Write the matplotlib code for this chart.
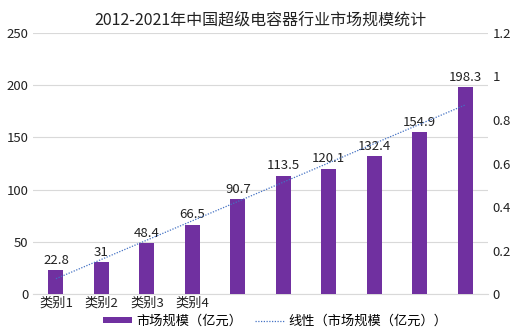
import numpy as np
import matplotlib.pyplot as plt
from matplotlib.ticker import FuncFormatter

plt.rcParams['font.family'] = ['Noto Sans CJK SC', 'DejaVu Sans']

# Data
categories = ['类别1', '类别2', '类别3', '类别4', '', '', '', '', '', '']
values = [22.8, 31, 48.4, 66.5, 90.7, 113.5, 120.1, 132.4, 154.9, 198.3]
value_labels = ['22.8', '31', '48.4', '66.5', '90.7', '113.5', '120.1', '132.4', '154.9', '198.3']

x = np.arange(len(values))

# linear trend, like the Excel trendline
coef = np.polyfit(x, values, 1)
trend = np.polyval(coef, x)

fig = plt.figure(figsize=(5.19, 3.33), dpi=100)
ax = fig.add_axes([0.064, 0.117, 0.876, 0.784])

bars = ax.bar(x, values, width=0.33, color='#7030a0', zorder=3, label='市场规模（亿元）')
line, = ax.plot(x, trend, color='#4472c4', linestyle=(0, (1, 1.2)), linewidth=0.9, zorder=4,
                label='线性（市场规模（亿元））')

for xi, v, t in zip(x, values, value_labels):
    ax.text(xi, v + 3, t, ha='center', va='bottom', fontsize=9.5, color='#222222')

ax.set_xlim(-0.5, len(values) - 0.5)
ax.set_ylim(0, 250)
ax.set_yticks(range(0, 251, 50))
ax.set_xticks(x)
ax.set_xticklabels(categories, fontsize=9.5)
ax.tick_params(axis='both', length=0, labelsize=9.5, colors='#222222')
ax.tick_params(axis='x', pad=2)
ax.yaxis.grid(True, color='#d9d9d9', linewidth=0.8, zorder=0)
for s in ['top', 'right', 'left']:
    ax.spines[s].set_visible(False)
ax.spines['bottom'].set_color('#d9d9d9')

ax2 = ax.twinx()
ax2.set_ylim(0, 1.2)
ax2.set_yticks(np.arange(0, 1.21, 0.2))
ax2.yaxis.set_major_formatter(FuncFormatter(lambda v, p: '%g' % round(v, 1)))
ax2.tick_params(axis='y', length=0, labelsize=9.5, colors='#222222')
for s in ['top', 'right', 'left', 'bottom']:
    ax2.spines[s].set_visible(False)

ax.set_title('2012-2021年中国超级电容器行业市场规模统计', fontsize=11.5, color='#222222', pad=6)

fig.legend([bars, line], ['市场规模（亿元）', '线性（市场规模（亿元））'], loc='center',
           bbox_to_anchor=(0.53, 0.035), ncol=2, frameon=False, borderpad=0.1,
           fontsize=9.5, handlelength=2.2, handleheight=0.35, columnspacing=1.0, handletextpad=0.3)

fig.savefig('out.png', dpi=100, facecolor='white')
